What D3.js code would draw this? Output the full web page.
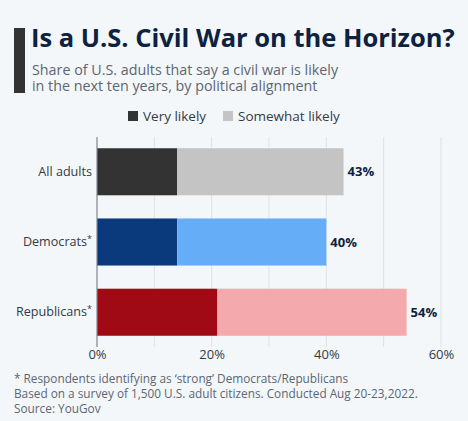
<!DOCTYPE html>
<html><head><meta charset="utf-8">
<script src="https://cdn.jsdelivr.net/npm/d3@7"></script>
<style>
html,body{margin:0;padding:0;background:#f4f7fa;}
svg{display:block;font-family:"Open Sans","Noto Sans",sans-serif;}
</style></head><body>
<svg id="c" width="468" height="421"></svg>
<script>
const categories = ["All adults", "Democrats*", "Republicans*"];
const veryLikely = [14, 14, 21];
const somewhatLikely = [29, 26, 33];
const totals = [43, 40, 54];
const seriesNames = ["Very likely", "Somewhat likely"];
const tickValues = [0, 20, 40, 60];
const darkColors = ["#333333", "#0b3a7c", "#a00a14"];
const lightColors = ["#c4c4c4", "#66adf7", "#f4a9ad"];

const svg = d3.select("#c");
svg.append("rect").attr("width",468).attr("height",421).attr("fill","#f4f7fa");

// header
svg.append("rect").attr("x",14).attr("y",28).attr("width",11).attr("height",65).attr("fill","#333333");
svg.append("text").attr("x",31).attr("y",47).attr("font-size",25.5).attr("font-weight",700)
  .attr("fill","#0d2240").text("Is a U.S. Civil War on the Horizon?");
const sub = ["Share of U.S. adults that say a civil war is likely","in the next ten years, by political alignment"];
sub.forEach((s,i)=>svg.append("text").attr("x",32).attr("y",75+i*16).attr("font-size",14.3)
  .attr("fill","#5b6672").text(s));

const x = d3.scaleLinear().domain([0,60]).range([97,441]);
const y = d3.scaleBand().domain(categories).range([137,347]).paddingInner(0.33).paddingOuter(0.16);

// grid
svg.append("g").selectAll("line").data(d3.range(10,61,10)).join("line")
  .attr("x1",d=>x(d)).attr("x2",d=>x(d)).attr("y1",137).attr("y2",347)
  .attr("stroke","#dde1e6").attr("stroke-width",1);

// bars
const g = svg.append("g");
categories.forEach((c,i)=>{
  g.append("rect").attr("x",x(0)).attr("y",y(c)).attr("width",x(veryLikely[i])-x(0))
    .attr("height",y.bandwidth()).attr("fill",darkColors[i]);
  g.append("rect").attr("x",x(veryLikely[i])).attr("y",y(c))
    .attr("width",x(veryLikely[i]+somewhatLikely[i])-x(veryLikely[i]))
    .attr("height",y.bandwidth()).attr("fill",lightColors[i]);
  g.append("text").attr("x",x(totals[i])+4).attr("y",y(c)+y.bandwidth()/2).attr("dy","0.35em")
    .attr("font-size",13).attr("font-weight",700).attr("fill","#0d2240").text(totals[i]+"%");
});

// axis line
svg.append("line").attr("x1",x(0)).attr("x2",x(0)).attr("y1",137).attr("y2",347)
  .attr("stroke","#7d858e").attr("stroke-width",1.2);

// y labels
const yAxis = d3.axisLeft(y).tickSize(0).tickPadding(5);
const ya = svg.append("g").attr("transform",`translate(${x(0)},0)`).call(yAxis);
ya.select(".domain").remove();
ya.selectAll("text").attr("font-size",12.6).attr("fill","#333a44").attr("font-family","'Open Sans',sans-serif")
  .each(function(d){
    const t = d3.select(this);
    if(d.endsWith("*")){
      t.text(d.slice(0,-1));
      t.append("tspan").attr("font-size",9).attr("dy","-0.45em").text("*");
    }
  });

// x axis
const xAxis = d3.axisBottom(x).tickValues(tickValues).tickFormat(d=>d+"%").tickSize(0).tickPadding(0);
const xa = svg.append("g").attr("transform","translate(0,347)").call(xAxis);
xa.select(".domain").remove();
xa.selectAll("text").attr("font-size",13).attr("fill","#333a44").attr("font-family","'Open Sans',sans-serif").attr("dy","0.95em");

// legend
const legendX = [128, 223];
seriesNames.forEach((s,i)=>{
  svg.append("rect").attr("x",legendX[i]).attr("y",111).attr("width",10).attr("height",10)
    .attr("fill", i===0 ? darkColors[0] : lightColors[0]);
  svg.append("text").attr("x",legendX[i]+15).attr("y",116).attr("dy","0.35em").attr("font-size",13.5)
    .attr("fill","#333a44").text(s);
});

// footer
const foot = ["* Respondents identifying as ‘strong’ Democrats/Republicans",
  "Based on a survey of 1,500 U.S. adult citizens. Conducted Aug 20-23,2022.",
  "Source: YouGov"];
foot.forEach((s,i)=>svg.append("text").attr("x",14).attr("y",383+i*15).attr("font-size",11.8)
  .attr("fill","#5b6672").text(s));
</script></body></html>
